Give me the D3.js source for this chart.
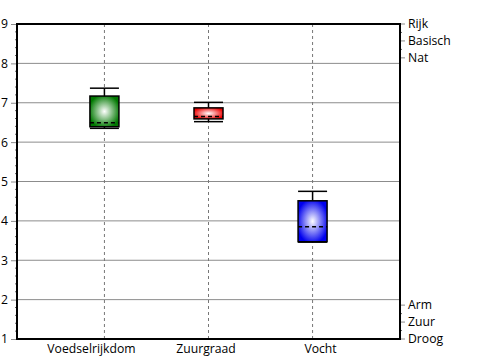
<!DOCTYPE html>
<html><head><meta charset="utf-8">
<script src="https://cdn.jsdelivr.net/npm/d3@7"></script>
<style>
body{margin:0;background:#fff}
text{font-family:"Open Sans",sans-serif;font-size:12.2px;fill:#000}
</style></head>
<body><svg id="c" width="500" height="360"></svg>
<script>
const categories = ["Voedselrijkdom", "Zuurgraad", "Vocht"];
const whiskerLow = [6.35, 6.52, 3.46];
const boxLow = [6.39, 6.59, 3.47];
const medianVals = [6.49, 6.65, 3.85];
const boxHigh = [7.17, 6.87, 4.51];
const whiskerHigh = [7.37, 7.01, 4.75];
const boxColors = ["#007800", "#ee0000", "#0000ee"];
const yTicks = [1, 2, 3, 4, 5, 6, 7, 8, 9];
const rightLabels = ["Rijk", "Basisch", "Nat", "Arm", "Zuur", "Droog"];
const rightValues = [9, 8.57, 8.14, 1.86, 1.43, 1];

const svg = d3.select("#c");
const L = 17, R = 400, T = 24, B = 339;
const x = d3.scalePoint().domain(categories).range([L, R]).padding(0.84);
const xLab = d3.scalePoint().domain(categories).range([L - 3, R - 3]).padding(0.672);
const y = d3.scaleLinear().domain([1, 9]).range([B, T]);
const bw = 29;

const defs = svg.append("defs");
boxColors.forEach((c, i) => {
  const g = defs.append("radialGradient").attr("id", "g" + i)
    .attr("cx", "50%").attr("cy", "50%").attr("r", "55%");
  g.append("stop").attr("offset", "0%").attr("stop-color", "#ffffff");
  g.append("stop").attr("offset", "100%").attr("stop-color", c);
});

// minor ticks on left axis
const minor = d3.range(1, 9.001, 0.2).filter(v => Math.abs(v - Math.round(v)) > 0.01);
svg.append("g").selectAll("line").data(minor).join("line")
  .attr("x1", L - 2).attr("x2", L).attr("y1", d => y(d)).attr("y2", d => y(d))
  .attr("stroke", "#666").attr("stroke-width", 1);

// horizontal grid
svg.append("g").selectAll("line").data(yTicks.filter(v => v > 1 && v < 9)).join("line")
  .attr("x1", L).attr("x2", R).attr("y1", d => y(d)).attr("y2", d => y(d))
  .attr("stroke", "#8c8c8c").attr("stroke-width", 1);

// left axis ticks and labels
const yAxis = d3.axisLeft(y).tickValues(yTicks).tickSize(5).tickPadding(3).tickFormat(d3.format("d"));
const ya = svg.append("g").attr("transform", `translate(${L - 1},0)`).call(yAxis);
ya.select(".domain").remove();
ya.selectAll(".tick line").attr("stroke", "#8c8c8c");
ya.selectAll("text").style("font-family", "'Open Sans',sans-serif").style("font-size", "12.2px");

// vertical dashed grid
svg.append("g").selectAll("line").data(categories).join("line")
  .attr("x1", d => x(d)).attr("x2", d => x(d)).attr("y1", T).attr("y2", B)
  .attr("stroke", "#777").attr("stroke-width", 1).attr("stroke-dasharray", "3,3");

// right axis
const rightMinor = [8.785, 8.355, 1.645, 1.215];
svg.append("g").selectAll("line").data(rightMinor).join("line")
  .attr("x1", R).attr("x2", R + 2).attr("y1", d => y(d)).attr("y2", d => y(d))
  .attr("stroke", "#666");
svg.append("g").selectAll("line").data(rightValues).join("line")
  .attr("x1", R).attr("x2", R + 5).attr("y1", d => y(d)).attr("y2", d => y(d))
  .attr("stroke", "#8c8c8c");
svg.append("g").selectAll("text").data(rightLabels).join("text")
  .attr("x", R + 8).attr("y", (d, i) => y(rightValues[i])).attr("dy", "0.35em")
  .text(d => d);

// bottom labels
const xAxis = d3.axisBottom(xLab).tickSize(0).tickPadding(5);
const xa = svg.append("g").attr("transform", `translate(0,${B})`).call(xAxis);
xa.select(".domain").remove();
xa.selectAll("text").style("font-family", "'Open Sans',sans-serif").style("font-size", "12.2px");

// boxes
const gB = svg.append("g");
categories.forEach((c, i) => {
  const cx = x(c);
  const ln = (x1, x2, y1, y2) => gB.append("line").attr("x1", x1).attr("x2", x2).attr("y1", y1).attr("y2", y2)
    .attr("stroke", "#000").attr("stroke-width", 1.5);
  ln(cx, cx, y(whiskerHigh[i]), y(boxHigh[i]));
  ln(cx, cx, y(boxLow[i]), y(whiskerLow[i]));
  ln(cx - bw / 2, cx + bw / 2, y(whiskerHigh[i]), y(whiskerHigh[i]));
  ln(cx - bw / 2, cx + bw / 2, y(whiskerLow[i]), y(whiskerLow[i]));
  gB.append("rect").attr("x", cx - bw / 2).attr("width", bw)
    .attr("y", y(boxHigh[i])).attr("height", y(boxLow[i]) - y(boxHigh[i]))
    .attr("fill", `url(#g${i})`).attr("stroke", "#000").attr("stroke-width", 1.5);
  gB.append("line").attr("x1", cx - bw / 2).attr("x2", cx + bw / 2).attr("y1", y(medianVals[i])).attr("y2", y(medianVals[i]))
    .attr("stroke", "#000").attr("stroke-width", 1.5).attr("stroke-dasharray", "4,3");
});

// frame
svg.append("rect").attr("x", L).attr("y", T).attr("width", R - L).attr("height", B - T)
  .attr("fill", "none").attr("stroke", "#000").attr("stroke-width", 2);
</script></body></html>
